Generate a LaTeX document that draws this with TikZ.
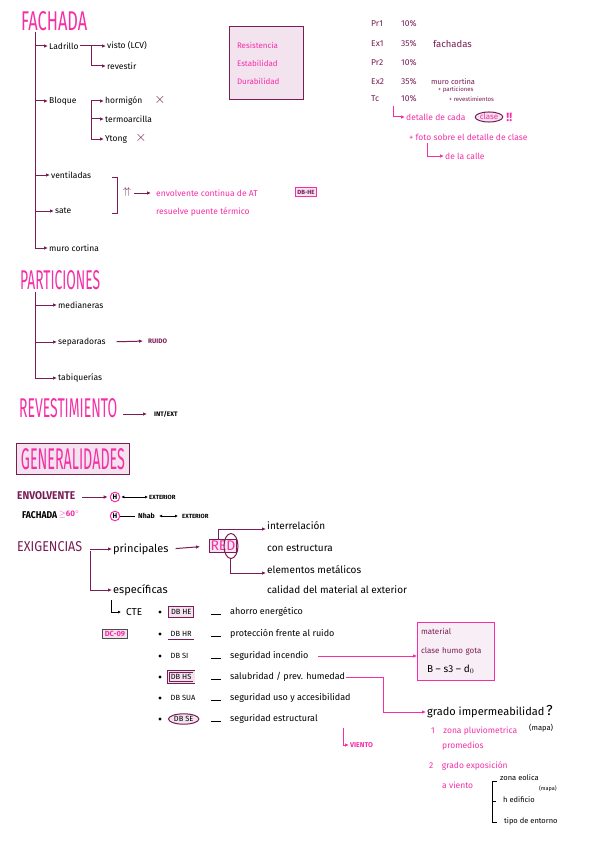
\documentclass[tikz,border=0pt]{standalone}
\usepackage{fontspec}
\usepackage{graphicx}
\setmainfont{Fira Sans}
\usetikzlibrary{positioning,arrows.meta,calc,shapes.geometric}
\definecolor{rosa}{HTML}{F62FA6}
\definecolor{granate}{HTML}{7A1D56}
\definecolor{rosaclaro}{HTML}{F3E3EE}
\newcommand{\rotulo}[3]{\resizebox{#1}{#2}{\fontsize{18}{18}\selectfont #3}}
\tikzset{
  linea/.style={draw=granate,line width=1pt},
  rama/.style={linea,-{Latex[length=4pt,width=3.5pt]}},
  rosaflecha/.style={draw=rosa,line width=1pt,-{Latex[length=4pt,width=3.5pt]}},
  txt/.style={anchor=west,inner sep=1pt,font=\fontsize{8.5}{10}\selectfont},
  txtg/.style={anchor=west,inner sep=1pt,font=\fontsize{10}{12}\selectfont},
  rosatxt/.style={txt,text=rosa},
  gtxt/.style={txt,text=granate},
  mini/.style={anchor=west,inner sep=1pt,font=\fontsize{6}{7}\selectfont},
  caja/.style={draw=granate,fill=rosaclaro,line width=1pt},
  titulo/.style={anchor=west,inner sep=0pt,text=rosa},
  cruz/.style={text=granate,inner sep=0pt,font=\Large},
  hcirc/.style={circle,draw=rosa,line width=1pt,inner sep=1pt,font=\fontsize{7}{8}\selectfont\bfseries},
  doble/.style={black,line width=0.7pt,{Latex[length=3pt,width=3pt]}-{Latex[length=3pt,width=3pt]}},
  db/.style={anchor=west,inner sep=2.5pt,font=\fontsize{7.5}{9}\selectfont},
  dbcaja/.style={db,caja},
  dbplano/.style={db},
  dbdoble/.style={db,draw=granate,line width=0.7pt,double=rosaclaro,double distance=1.3pt,fill=rosaclaro},
  dbelipse/.style={db,ellipse,draw=granate,line width=1pt,fill=rosaclaro,inner sep=1pt},
}
\begin{document}
\begin{tikzpicture}[x=1pt,y=-1pt]
\useasboundingbox (0,0) rectangle (599,848);
\fill[white] (0,0) rectangle (599,848);

% FACHADA tree
\node[titulo] (fach) at (21,21) {\rotulo{66pt}{19pt}{FACHADA}};
\coordinate (tf) at (35,32);
\node[txt] (lad) at (48,46) {Ladrillo};
\node[txt] (blo) at (48,101) {Bloque};
\node[txt] (ven) at (50,175) {ventiladas};
\node[txt] (sat) at (54,211) {sate};
\node[txt] (mur) at (48,248) {muro cortina};
\draw[linea] (tf) -- (tf |- mur.west);
\foreach \n in {lad,blo,ven,sat,mur}
  \draw[rama] (tf |- \n.west) -- (\n.west);
% ladrillo
\coordinate (tl) at (91,46);
\node[txt] (vis) at (106,46) {visto (LCV)};
\node[txt] (rvt) at (106,66) {revestir};
\draw[linea] (lad.east) -- (tl) -- (tl |- rvt.west);
\foreach \n in {vis,rvt}
  \draw[rama] (tl |- \n.west) -- (\n.west);
% bloque
\coordinate (tb) at (91,101);
\node[txt] (hor) at (104,101) {hormigón};
\node[txt] (ter) at (104,119) {termoarcilla};
\node[txt] (yto) at (104,139) {Ytong};
\draw[linea] (tb) -- (tb |- yto.west);
\foreach \n in {hor,ter,yto}
  \draw[rama] (tb |- \n.west) -- (\n.west);
\node[cruz] (xa) at (160,100) {$\times$};
\node[cruz] (xb) at (141,138) {$\times$};
% ventiladas + sate
\draw[linea] (112,177) -- (117,177) -- (117,213) -- (112,213);
\node[text=granate,inner sep=0pt,font=\bfseries] (up) at (127,192) {$\uparrow\!\uparrow$};
\node[rosatxt] (env) at (155,193) {envolvente continua de AT};
\node[draw=rosa,fill=rosaclaro,line width=1pt,inner sep=2pt,font=\fontsize{6}{7}\selectfont\bfseries,text=granate] (dbhe0) at (306,192) {DB-HE};
\node[rosatxt] (pue) at (155,212) {resuelve puente térmico};
\draw[rama,shorten <=3pt,shorten >=4pt] (up.east |- env.west) -- (env.west);

% Resistencia box
\node[caja,text=rosa,align=left,text width=58pt,minimum height=73pt,inner xsep=8pt,font=\fontsize{8}{18}\selectfont] (rbox) at (266,63) {Resistencia\\Estabilidad\\Durabilidad};

% notas derecha
\foreach \n/\a/\b/\y in {pra/Pr1/10\%/24, exa/Ex1/35\%/44, prb/Pr2/10\%/63, exb/Ex2/35\%/82, tc/Tc/10\%/99} {
  \node[gtxt] (\n) at (370,\y) {\a};
  \node[gtxt] (p\n) at (400,\y) {\b};
}
\node[gtxt,font=\fontsize{9.5}{11}\selectfont] (fac) at (432,44) {fachadas};
\node[gtxt,font=\fontsize{7.5}{9}\selectfont] (muc) at (430,82) {muro cortina};
\node[mini,text=granate] (par) at (437,90) {+ particiones};
\node[mini,text=granate] (rev) at (448,99) {+ revestimientos};
\coordinate (la) at (393,106);
\node[rosatxt] (det) at (405,117) {detalle de cada};
\node[ellipse,draw=granate,fill=rosaclaro,line width=1pt,inner sep=0.5pt,text=rosa,font=\fontsize{8}{9}\selectfont] (cla) at (489,117) {clase};
\node[text=rosa,inner sep=1pt,font=\large\bfseries,right=2pt of cla] (exc) {!!};
\draw[rosaflecha] (la) |- (det.west);
\node[rosatxt] (fot) at (408,137) {+ foto sobre el detalle de clase};
\coordinate (lb) at (427,143);
\node[rosatxt] (cal) at (444,156) {de la calle};
\draw[rosaflecha] (lb) |- (cal.west);

% PARTICIONES
\node[titulo] (part) at (20,280) {\rotulo{80pt}{19pt}{PARTICIONES}};
\coordinate (tp) at (35,292);
\node[txt] (med) at (57,305) {medianeras};
\node[txt] (sep) at (57,342) {separadoras};
\node[txt] (tab) at (57,378) {tabiquerías};
\draw[linea] (tp) -- (tp |- tab.west);
\foreach \n in {med,sep,tab}
  \draw[rama] (tp |- \n.west) -- (\n.west);
\node[mini,text=granate,font=\fontsize{6.5}{7}\selectfont\bfseries] (rui) at (147,341) {RUIDO};
\draw[rama,shorten <=10pt,shorten >=4pt] (sep.east) -- (rui.west);

% REVESTIMIENTO
\node[titulo] (reve) at (19,408) {\rotulo{98pt}{19pt}{REVESTIMIENTO}};
\node[mini,font=\fontsize{6.5}{7}\selectfont\bfseries] (ie) at (153,414) {INT/EXT};
\draw[rama,shorten <=6pt,shorten >=6pt] (reve.east |- ie.west) -- (ie.west);

% GENERALIDADES
\node[caja,text=rosa,minimum width=113pt,minimum height=31pt,inner sep=0pt] (gen) at (73,459) {\rotulo{104pt}{21pt}{GENERALIDADES}};

% envolvente / fachada
\node[anchor=west,inner sep=0pt,text=granate] (envo) at (17,496) {\resizebox{58pt}{8pt}{\bfseries ENVOLVENTE}};
\node[hcirc] (h1) at (115,497) {H};
\node[mini,font=\fontsize{6}{7}\selectfont\bfseries] (ext1) at (148,497) {EXTERIOR};
\draw[rama,shorten <=7pt,shorten >=2pt] (envo.east |- h1.west) -- (h1.west);
\draw[doble,shorten <=1pt] (h1.east) -- (ext1.west);
\node[anchor=west,inner sep=0pt] (fac2) at (22,515) {\resizebox{35pt}{7pt}{\bfseries FACHADA}};
\node[rosatxt,font=\fontsize{8}{9}\selectfont\bfseries] (ang) at (58,514) {$\geq$60$^\circ$};
\node[hcirc] (h2) at (115,516) {H};
\node[mini,font=\fontsize{7}{8}\selectfont\bfseries] (nha) at (137,516) {Nhab};
\node[mini,font=\fontsize{6}{7}\selectfont\bfseries] (ext2) at (181,516) {EXTERIOR};
\draw[black,line width=0.8pt,shorten >=2pt] (h2.east) -- (nha.west);
\draw[doble,shorten <=3pt,shorten >=3pt] (nha.east) -- (ext2.west);

% EXIGENCIAS
\node[anchor=west,inner sep=0pt,text=granate] (exi) at (17,547) {\resizebox{65pt}{10pt}{EXIGENCIAS}};
\coordinate (te) at (90,551);
\node[txtg,font=\fontsize{11}{13}\selectfont] (pri) at (112,549) {principales};
\node[txtg,font=\fontsize{11}{13}\selectfont] (esp) at (112,590) {específicas};
\draw[linea] (te) -- (te |- esp.west);
\foreach \n in {pri,esp}
  \draw[rama] (te |- \n.west) -- (\n.west);
\node[caja,text=rosa,anchor=west,inner xsep=1pt,inner ysep=2pt,font=\fontsize{14}{15}\selectfont] (red) at (209,546) {RED};
\node[ellipse,draw=granate,line width=1pt,inner sep=0pt,minimum width=14pt,minimum height=25pt] (redd) at ([xshift=-6pt]red.east) {};
\draw[rama,shorten <=6pt,shorten >=9pt] (pri.east) -- (red.west);
\node[txtg] (int) at (266,526) {interrelación};
\node[txtg] (con) at (266,548) {con estructura};
\node[txtg] (ele) at (266,570) {elementos metálicos};
\node[txtg] (cal2) at (266,590) {calidad del material al exterior};
\draw[rama] ([xshift=9pt]red.north west) |- ([yshift=-3pt]int.west);
\draw[rama] (redd.south) |- ([yshift=-3pt]ele.west);

% CTE
\coordinate (lc) at (111,600);
\node[txtg] (cte) at (125,612) {CTE};
\draw[black,line width=1pt,-{Latex[length=3pt,width=3pt]},shorten >=4pt] (lc) |- (cte.west);
\node[draw=black!70,fill=rosaclaro,line width=1.2pt,inner sep=2pt,text=rosa,font=\fontsize{7.5}{9}\selectfont\bfseries] (dc) at (115,634) {DC-09};
\foreach \i/\db/\desc/\y/\st in {he/DB HE/ahorro energético/612/dbcaja,
    hr/DB HR/protección frente al ruido/634/dbplano,
    si/DB SI/seguridad incendio/656/dbplano,
    hs/DB HS/salubridad \slash\ prev. humedad/677/dbdoble,
    sua/DB SUA/seguridad uso y accesibilidad/698/dbplano,
    se/DB SE/seguridad estructural/719/dbelipse} {
  \node[circle,fill=black,inner sep=1.2pt] (b\i) at (160,\y) {};
  \node[\st] (db\i) at (168,\y) {\db};
  \node[txt,font=\fontsize{9}{11}\selectfont] (d\i) at (229,\y) {\desc};
  \draw[line width=1pt] (211,\y+2) -- (221,\y+2);
}
\draw[linea] (dbhr.south west) -- (dbhr.south east);

% ruido / incendio box
\node[draw=rosa,fill=rosaclaro!60,line width=1pt,text=granate,align=left,text width=70pt,minimum height=58pt,font=\fontsize{8}{19}\selectfont] (mat) at (456,651) {material\\clase humo gota\\\hspace*{6pt}{\fontsize{10}{12}\selectfont\color{black}B -- s3 -- d$_0$}};
\draw[rosaflecha,shorten <=8pt] (dsi.east) -- (dsi.east -| mat.west);

% humedad
\node[txtg,font=\fontsize{11}{13}\selectfont] (gra) at (426,712) {grado impermeabilidad\,{\Large ?}};
\draw[rosaflecha] (dhs.east) -- ++(37,0) |- (gra.west);
\node[rosatxt] (z1) at (430,731) {1\quad zona pluviometrica};
\node[mini,font=\fontsize{7.5}{8}\selectfont] (map1) at (528,728) {(mapa)};
\node[rosatxt] (pro) at (441,746) {promedios};
\node[rosatxt] (z2) at (428,766) {2\quad grado exposición};
\node[rosatxt] (avi) at (441,785) {a viento};
\draw[black,line width=1pt] (497,781) -- (492,781) -- (492,822) -- (497,822);
\draw[black,line width=1pt] (492,801) -- (496,801);
\node[txt,font=\fontsize{7.5}{9}\selectfont] (zeo) at (499,778) {zona eolica};
\node[mini,font=\fontsize{5.5}{6}\selectfont] (map2) at (538,789) {(mapa)};
\node[txt,font=\fontsize{7.5}{9}\selectfont] (hed) at (502,800) {h edificio};
\node[txt,font=\fontsize{7.5}{9}\selectfont] (tip) at (503,821) {tipo de entorno};

% viento
\coordinate (vs) at (343,728);
\node[mini,text=rosa,font=\fontsize{7}{8}\selectfont\bfseries] (vie) at (349,745) {VIENTO};
\draw[rosaflecha] (vs) |- (vie.west);
\end{tikzpicture}
\end{document}
